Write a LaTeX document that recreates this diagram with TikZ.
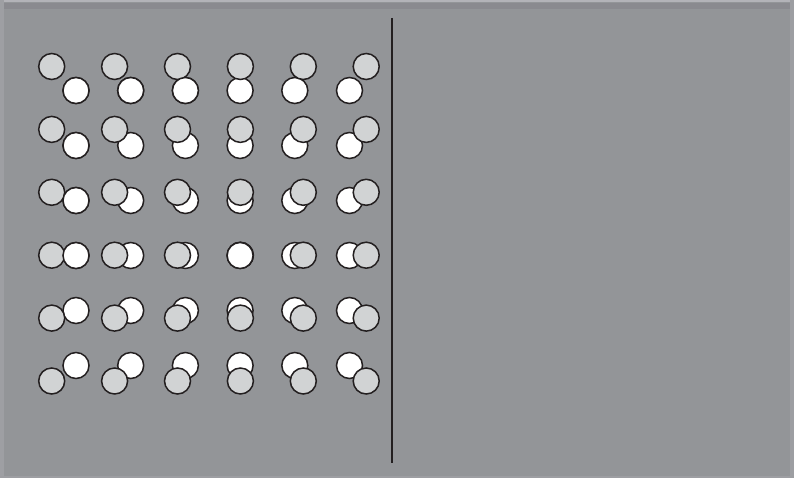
\documentclass[tikz,border=0pt]{standalone}
\definecolor{bg}{HTML}{939598}
\definecolor{edge}{HTML}{B3B3B8}
\definecolor{band}{HTML}{8A8A8F}
\definecolor{disc}{HTML}{D1D3D4}
\definecolor{rim}{HTML}{231F20}
\begin{document}
\begin{tikzpicture}[x=1pt,y=-1pt,
  dot/.style={draw=rim,line width=1.5pt},
  greydot/.style={dot,fill=disc},
  whitedot/.style={dot,fill=white}]
% frame
\fill[bg] (0,0) rectangle (794,478);
\fill[edge] (0,0) rectangle (794,2.5);
\fill[band] (0,3) rectangle (794,9);
\fill[edge!35!bg] (0,0) rectangle (4,478);
\fill[edge!30!bg] (790,0) rectangle (794,478);
\fill[edge!30!bg] (0,476) rectangle (794,478);
\draw[rim,line width=1.8pt] (392,18) -- (392,463);
% pairs: white behind, grey in front
\foreach \r in {0,...,5}
  \foreach \c in {0,...,5} {
    \draw[whitedot] (76+54.7*\c,90.5+55*\r) circle[radius=13pt];
    \draw[greydot] (51.7+62.9*\c,66.5+62.9*\r) circle[radius=13pt];
  }
% pairs where the white disc lies on top
\foreach \c/\r in {0/0,1/0,2/0,0/1,0/2,0/3,3/3}
  \draw[whitedot] (76+54.7*\c,90.5+55*\r) circle[radius=13pt];
\end{tikzpicture}
\end{document}
